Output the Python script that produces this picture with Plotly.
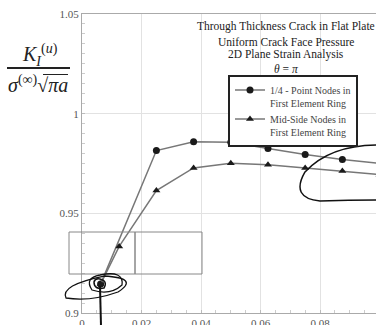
import plotly.graph_objects as go

# ---- data ----
x_quarter = [0.00625, 0.025, 0.0375, 0.05, 0.0625, 0.075, 0.0875, 0.1]
y_quarter = [0.9145, 0.9815, 0.9859, 0.9857, 0.9825, 0.9795, 0.9770, 0.9750]
x_mid = [0.00625, 0.0125, 0.025, 0.0375, 0.05, 0.0625, 0.075, 0.0875, 0.1]
y_mid = [0.9145, 0.9334, 0.9614, 0.9728, 0.9751, 0.9744, 0.9728, 0.9713, 0.9694]
name_quarter = "1/4 - Point Nodes in<br>First Element Ring"
name_mid = "Mid-Side Nodes in<br>First Element Ring"
y_tickvals = [0.9, 0.95, 1.0, 1.05]
y_ticktext = ["0.9", "0.95", "1", "1.05"]
x_tickvals = [0, 0.02, 0.04, 0.06, 0.08, 0.1]
x_ticktext = ["0", "0.02", "0.04", "0.06", "0.08", "0.1"]
title_lines = ["Through Thickness Crack in Flat Plate", "Uniform Crack Face Pressure",
               "2D Plane Strain Analysis", "<i>θ</i> = <i>π</i>"]

W, H = 376, 325
L, R, T, B = 82, 0, 14, 12
SERIF = "Liberation Serif, Times New Roman, serif"

def px(x):
    return (x - L) / (W - L - R)

def py(y):
    return (H - B - y) / (H - T - B)

fig = go.Figure()
fig.add_trace(go.Scatter(x=x_quarter, y=y_quarter, mode="lines+markers", name=name_quarter,
                         line=dict(color="#777777", width=1.5),
                         marker=dict(symbol="circle", size=7, color="#1a1a1a")))
fig.add_trace(go.Scatter(x=x_mid, y=y_mid, mode="lines+markers", name=name_mid,
                         line=dict(color="#777777", width=1.5),
                         marker=dict(symbol="triangle-up", size=7, color="#1a1a1a")))

axis_common = dict(showline=True, linecolor="#aaaaaa", linewidth=1, mirror=True,
                   ticks="inside", ticklen=3, tickcolor="#bbbbbb",
                   gridcolor="#e2e2e2", gridwidth=1, zeroline=False, automargin=False,
                   tickfont=dict(family=SERIF, size=11, color="#555555"))

fig.update_xaxes(range=[0, 0.0988], tickvals=x_tickvals, ticktext=x_ticktext,
                 minor=dict(dtick=0.005, ticks="inside", ticklen=3, tickcolor="#cccccc", showgrid=False),
                 **axis_common)
fig.update_yaxes(range=[0.9, 1.05], tickvals=y_tickvals, ticktext=y_ticktext,
                 minor=dict(dtick=0.005, ticks="inside", ticklen=3, tickcolor="#cccccc", showgrid=False),
                 **axis_common)

annotations = []
title_y = [26.5, 41.5, 54.5, 69]
for txt, yy in zip(title_lines, title_y):
    annotations.append(dict(text=txt, x=px(286), y=py(yy), xref="paper", yref="paper",
                            xanchor="center", yanchor="middle", showarrow=False,
                            font=dict(family=SERIF, size=11.5, color="#222222")))
# y-axis fraction label
annotations.append(dict(text="<i>K</i><sub><i>I</i></sub><sup>(<i>u</i>)</sup>", x=px(40), y=py(55),
                        xref="paper", yref="paper", xanchor="center", yanchor="middle",
                        showarrow=False, font=dict(family=SERIF, size=20, color="#222222")))
annotations.append(dict(text="<i>σ</i><sup>(∞)</sup>√<i>πa</i>", x=px(38), y=py(84),
                        xref="paper", yref="paper", xanchor="center", yanchor="middle",
                        showarrow=False, font=dict(family=SERIF, size=20, color="#222222")))

shapes = []
# fraction bar
shapes.append(dict(type="line", xref="paper", yref="paper", x0=px(7), x1=px(70), y0=py(68), y1=py(68),
                   line=dict(color="#222222", width=2)))
# sqrt overline
shapes.append(dict(type="line", xref="paper", yref="paper", x0=px(43), x1=px(68), y0=py(74.5), y1=py(74.5),
                   line=dict(color="#222222", width=1)))
# drawn rectangles
for x0, x1 in [(69, 135), (135, 202)]:
    shapes.append(dict(type="rect", xref="paper", yref="paper", x0=px(x0), x1=px(x1), y0=py(232), y1=py(274),
                       line=dict(color="#888888", width=1)))

def path_from(pts, close=False):
    s = "M {:.4f},{:.4f}".format(px(pts[0][0]), py(pts[0][1]))
    for i in range(1, len(pts) - 1, 2):
        s += " Q {:.4f},{:.4f} {:.4f},{:.4f}".format(px(pts[i][0]), py(pts[i][1]),
                                                      px(pts[i + 1][0]), py(pts[i + 1][1]))
    if close:
        s += " Z"
    return s

# hand-drawn loop on the right
loop_right = [(378, 145), (330, 145), (305, 172), (290, 198), (320, 201), (350, 200), (378, 200)]
shapes.append(dict(type="path", xref="paper", yref="paper", path=path_from(loop_right),
                   line=dict(color="#111111", width=1.5)))
# scribble around first point
loop_a = [(104, 276), (60, 285), (66, 298), (90, 302), (118, 292), (140, 278), (104, 276)]
shapes.append(dict(type="path", xref="paper", yref="paper", path=path_from(loop_a),
                   line=dict(color="#111111", width=1.3)))
loop_b = [(100, 275), (124, 270), (122, 285), (110, 296), (92, 290), (84, 278), (100, 275)]
shapes.append(dict(type="path", xref="paper", yref="paper", path=path_from(loop_b),
                   line=dict(color="#111111", width=1.3)))
loop_c = [(100, 279), (108, 281), (104, 288), (94, 290), (94, 282), (95, 278), (100, 279)]
shapes.append(dict(type="path", xref="paper", yref="paper", path=path_from(loop_c),
                   line=dict(color="#111111", width=1.5)))
shapes.append(dict(type="line", xref="paper", yref="paper", x0=px(100), x1=px(101), y0=py(286), y1=py(326),
                   line=dict(color="#111111", width=2)))

fig.update_layout(
    width=W, height=H,
    margin=dict(l=L, r=R, t=T, b=B, autoexpand=False),
    plot_bgcolor="white", paper_bgcolor="white",
    showlegend=True,
    legend=dict(x=px(228), y=py(75), xanchor="left", yanchor="top",
                bgcolor="white", bordercolor="#222222", borderwidth=2,
                font=dict(family=SERIF, size=10, color="#444444"),
                valign="top", itemwidth=30, tracegroupgap=0),
    annotations=annotations,
    shapes=shapes,
)

fig.write_html("out.html", config={"displayModeBar": False},
               post_script="document.body.style.margin='0';document.body.style.overflow='hidden';")
